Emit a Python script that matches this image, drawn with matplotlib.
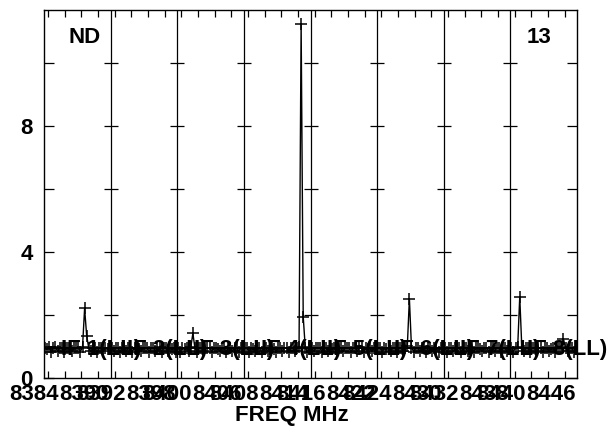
import matplotlib
matplotlib.use('Agg')
import matplotlib.pyplot as plt
import matplotlib.transforms as mtransforms
from matplotlib.font_manager import FontProperties

# ---------------- data ----------------
if_labels = ['IF 1(LL)', 'IF 2(LL)', 'IF 3(LL)', 'IF 4(LL)',
             'IF 5(LL)', 'IF 6(LL)', 'IF 7(LL)', 'IF 8(LL)']
if_start_mhz = [8383.5, 8391.5, 8399.5, 8407.5, 8415.5, 8423.5, 8431.5, 8439.5]
if_width_mhz = 8.0
chan_width_mhz = 0.25

amp_if1 = [0.96, 0.93, 0.97, 0.84, 0.95, 0.97, 0.86, 0.94, 0.95, 0.83, 0.96, 0.95,
           0.93, 0.85, 0.96, 0.94, 0.96, 0.84, 0.98, 2.21, 1.34, 0.95, 0.85, 0.96,
           0.95, 0.83, 0.96, 0.94, 0.86, 0.96, 0.93, 0.95]
amp_if2 = [0.95, 0.85, 0.94, 0.96, 0.83, 0.95, 0.95, 0.86, 0.96, 0.94, 0.84, 0.96,
           0.95, 0.93, 0.85, 0.96, 0.94, 0.95, 0.83, 0.95, 0.96, 0.86, 0.95, 0.97,
           0.84, 0.94, 0.96, 0.85, 0.95, 0.93, 0.96, 0.84]
amp_if3 = [0.96, 0.84, 0.95, 0.93, 0.96, 0.85, 0.97, 1.42, 0.95, 0.83, 0.95, 0.96,
           0.86, 0.95, 0.94, 0.96, 0.84, 0.95, 0.96, 0.93, 0.85, 0.96, 0.95, 0.83,
           0.96, 0.94, 0.86, 0.95, 0.96, 0.84, 0.95, 0.96]
amp_if4 = [0.95, 0.96, 0.84, 0.95, 0.93, 0.86, 0.96, 0.95, 0.83, 0.94, 0.96, 0.85,
           0.95, 0.96, 0.93, 0.84, 0.96, 0.95, 0.86, 0.94, 0.96, 0.83, 0.95, 0.96,
           0.85, 0.95, 0.98, 11.26, 1.95, 0.95, 0.84, 0.96]
amp_if5 = [0.96, 0.85, 0.95, 0.94, 0.96, 0.83, 0.95, 0.96, 0.86, 0.95, 0.93, 0.96,
           0.84, 0.95, 0.96, 0.85, 0.94, 0.96, 0.95, 0.83, 0.96, 0.94, 0.86, 0.95,
           0.96, 0.84, 0.95, 0.93, 0.96, 0.85, 0.95, 0.96]
amp_if6 = [0.95, 0.96, 0.84, 0.95, 0.93, 0.96, 0.85, 0.95, 0.96, 0.83, 0.94, 0.96,
           0.86, 0.95, 1.01, 2.52, 0.96, 0.84, 0.95, 0.96, 0.85, 0.94, 0.96, 0.83,
           0.95, 0.96, 0.86, 0.95, 0.93, 0.84, 0.96, 0.95]
amp_if7 = [0.96, 0.84, 0.95, 0.96, 0.85, 0.94, 0.96, 0.95, 0.83, 0.96, 0.95, 0.86,
           0.94, 0.96, 0.84, 0.95, 0.96, 0.93, 0.85, 0.95, 0.96, 0.84, 0.95, 0.94,
           0.86, 0.96, 0.95, 0.83, 0.96, 0.94, 0.85, 0.95]
amp_if8 = [0.95, 0.84, 0.96, 0.97, 2.58, 0.96, 0.85, 0.95, 0.94, 0.83, 0.96, 0.95,
           0.86, 0.94, 0.96, 0.84, 0.95, 0.96, 0.85, 0.93, 0.96, 0.84, 0.95, 0.96,
           0.97, 1.24, 0.95, 0.85, 0.96, 0.94, 0.84, 0.95]
amps = [amp_if1, amp_if2, amp_if3, amp_if4, amp_if5, amp_if6, amp_if7, amp_if8]

xtick_labels = [8384, 8390, 8392, 8398, 8400, 8406, 8408, 8414,
                8416, 8422, 8424, 8430, 8432, 8438, 8440, 8446]
ytick_labels = [0, 4, 8]
ytick_minor = [2, 6, 10]
corner_left = 'ND'
corner_right = '13'
xlabel = 'FREQ MHz'

# ---------------- figure ----------------
DPI = 100
W, H = 615, 434
fig = plt.figure(figsize=(W / DPI, H / DPI), dpi=DPI)
ax = fig.add_axes([44 / W, (H - 378) / H, 533 / W, 368 / H])

FAM = ['Liberation Sans', 'DejaVu Sans']
FS = 16
font = dict(family=FAM, weight='bold', size=FS)
fprop = FontProperties(family=FAM, weight='bold', size=FS)

for start, vals, lab in zip(if_start_mhz, amps, if_labels):
    freqs = [start + (i + 0.5) * chan_width_mhz for i in range(len(vals))]
    ax.plot(freqs, vals, color='black', lw=1.0, marker='+', ms=8.6, mew=1.1)
    ax.text(start + 2.0, 0.72, lab, ha='left', va='baseline', **font)

# panel dividers with their cross ticks
for start in if_start_mhz[1:]:
    ax.axvline(start, color='black', lw=0.9)
    ax.plot([start] * 5, [2, 4, 6, 8, 10], ls='none', marker='_', ms=10,
            mew=0.9, color='black')

x0 = if_start_mhz[0]
x1 = if_start_mhz[-1] + if_width_mhz
ax.set_xlim(x0, x1)
ax.set_ylim(0, 11.7)

ax.set_xticks(xtick_labels, [str(v) for v in xtick_labels])
ax.set_xticks(list(range(8384, 8448, 2)), minor=True)
ax.set_yticks(ytick_labels, [str(v) for v in ytick_labels])
ax.set_yticks(ytick_minor, minor=True)

ax.tick_params(axis='x', which='both', direction='in', top=True, bottom=True,
               length=5, width=0.9, pad=4)
ax.tick_params(axis='y', which='both', direction='in', left=True, right=True,
               length=7, width=0.9, pad=8)
for spine in ax.spines.values():
    spine.set_linewidth(1.0)

shift = mtransforms.ScaledTranslation(-14 / DPI, 0, fig.dpi_scale_trans)
for lbl in ax.get_xticklabels():
    lbl.set_fontproperties(fprop)
    lbl.set_transform(lbl.get_transform() + shift)
for lbl in ax.get_yticklabels():
    lbl.set_fontproperties(fprop)

fig.text(68 / W, 1 - 43 / H, corner_left, ha='left', va='baseline', **font)
fig.text(527 / W, 1 - 43 / H, corner_right, ha='left', va='baseline', **font)
fig.text(292 / W, 1 - 421 / H, xlabel, ha='center', va='baseline', **font)

fig.savefig('out.png', dpi=DPI)
